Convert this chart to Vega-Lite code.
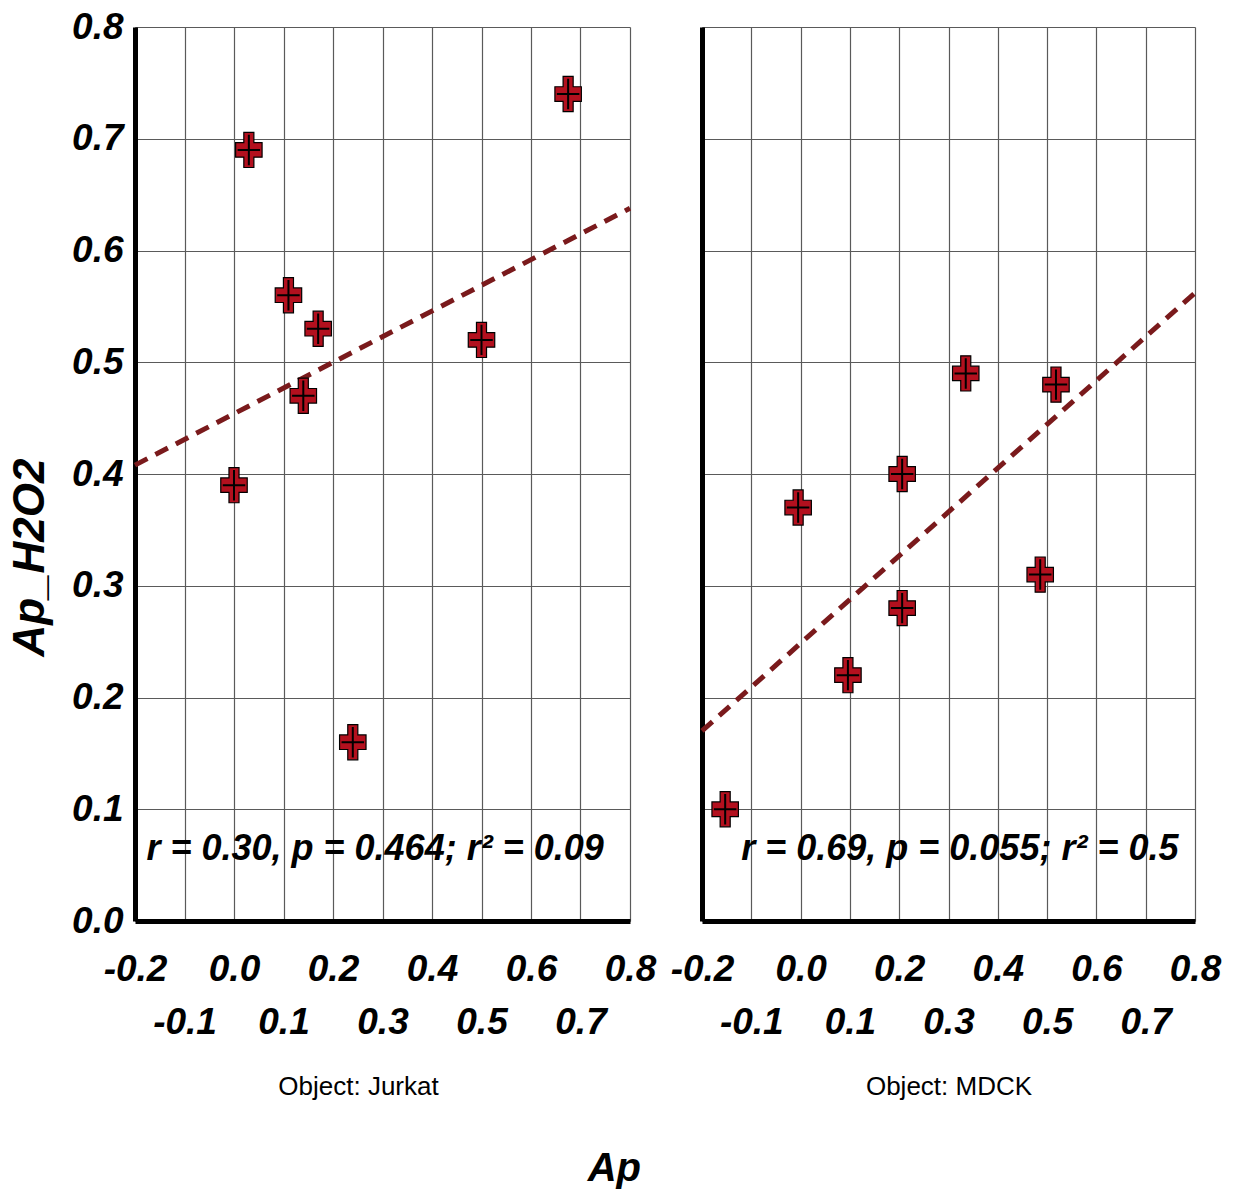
{
  "$schema": "https://vega.github.io/schema/vega-lite/v6.json",
  "background": "white",
  "padding": {"left": 8, "top": 8, "right": 10, "bottom": 0},
  "bounds": "flush",
  "spacing": 72,
  "datasets": {
    "jurkat": [
      {"x": 0.0, "y": 0.39},
      {"x": 0.03, "y": 0.69},
      {"x": 0.11, "y": 0.56},
      {"x": 0.17, "y": 0.53},
      {"x": 0.14, "y": 0.47},
      {"x": 0.24, "y": 0.16},
      {"x": 0.5, "y": 0.52},
      {"x": 0.675, "y": 0.74}
    ],
    "mdck": [
      {"x": -0.153, "y": 0.10},
      {"x": -0.005, "y": 0.37},
      {"x": 0.096, "y": 0.22},
      {"x": 0.206, "y": 0.40},
      {"x": 0.206, "y": 0.28},
      {"x": 0.335, "y": 0.49},
      {"x": 0.486, "y": 0.31},
      {"x": 0.518, "y": 0.48}
    ],
    "stats": [
      {"panel": "Jurkat", "label": "r = 0.30, p = 0.464; r² = 0.09"},
      {"panel": "MDCK", "label": "r = 0.69, p = 0.055; r² = 0.5"}
    ]
  },
  "title": {
    "text": "Ap",
    "orient": "bottom",
    "anchor": "middle",
    "offset": 50,
    "font": "Liberation Sans, sans-serif",
    "fontSize": 40,
    "fontStyle": "italic",
    "fontWeight": "bold",
    "color": "black"
  },
  "hconcat": [
    {
      "width": 495,
      "height": 894,
      "layer": [
        {
          "data": {"name": "jurkat"},
          "transform": [{"regression": "y", "on": "x", "extent": [-0.2, 0.8]}],
          "mark": {"type": "line", "color": "#7a1a1c", "strokeWidth": 5, "strokeDash": [14, 9]},
          "encoding": {
            "x": {"field": "x", "type": "quantitative", "scale": {"domain": [-0.2, 0.8], "nice": false, "zero": false},
              "axis": {
                "values": [-0.2, -0.1, 0, 0.1, 0.2, 0.3, 0.4, 0.5, 0.6, 0.7, 0.8],
                "labelExpr": "replace(format(datum.value, '.1f'), '\u2212', '-')",
                "labelPadding": {"condition": {"test": "abs(round(datum.value * 10)) % 2 == 1", "value": 83}, "value": 30},
                "title": "Object: Jurkat",
                "titleX": 223
              }},
            "y": {"field": "y", "type": "quantitative", "scale": {"domain": [0, 0.8], "nice": false, "zero": false},
              "axis": {
                "values": [0, 0.1, 0.2, 0.3, 0.4, 0.5, 0.6, 0.7, 0.8],
                "format": ".1f",
                "labelPadding": 12,
                "title": "Ap_H2O2",
                "titleX": -105,
                "titleY": 530,
                "titleAngle": 270,
                "titleAlign": "center",
                "titleBaseline": "middle",
                "titleFontSize": 44
              }}
          }
        },
        {
          "data": {"name": "jurkat"},
          "mark": {"type": "point", "shape": "M-0.38,-1.33L0.38,-1.33L0.38,-0.55L1,-0.55L1,0.55L0.38,0.55L0.38,1.33L-0.38,1.33L-0.38,0.55L-1,0.55L-1,-0.55L-0.38,-0.55Z", "size": 700, "filled": true, "fill": "#b3101e", "stroke": "black", "strokeWidth": 1.2, "opacity": 1},
          "encoding": {
            "x": {"field": "x", "type": "quantitative"},
            "y": {"field": "y", "type": "quantitative"}
          }
        },
        {
          "data": {"name": "jurkat"},
          "mark": {"type": "point", "shape": "M-0.85,0L0.85,0M0,-1.15L0,1.15", "size": 700, "filled": false, "stroke": "black", "strokeWidth": 2, "opacity": 1},
          "encoding": {
            "x": {"field": "x", "type": "quantitative"},
            "y": {"field": "y", "type": "quantitative"}
          }
        },
        {
          "data": {"name": "stats"},
          "transform": [{"filter": "datum.panel === 'Jurkat'"}],
          "mark": {"type": "text", "align": "center", "baseline": "middle", "font": "Liberation Sans, sans-serif", "fontSize": 36, "fontStyle": "italic", "fontWeight": "bold", "color": "black"},
          "encoding": {
            "x": {"datum": 0.285, "type": "quantitative"},
            "y": {"datum": 0.064, "type": "quantitative"},
            "text": {"field": "label"}
          }
        }
      ]
    },
    {
      "width": 493,
      "height": 894,
      "layer": [
        {
          "data": {"name": "mdck"},
          "transform": [{"regression": "y", "on": "x", "extent": [-0.2, 0.8]}],
          "mark": {"type": "line", "color": "#7a1a1c", "strokeWidth": 5, "strokeDash": [14, 9]},
          "encoding": {
            "x": {"field": "x", "type": "quantitative", "scale": {"domain": [-0.2, 0.8], "nice": false, "zero": false},
              "axis": {
                "values": [-0.2, -0.1, 0, 0.1, 0.2, 0.3, 0.4, 0.5, 0.6, 0.7, 0.8],
                "labelExpr": "replace(format(datum.value, '.1f'), '\u2212', '-')",
                "labelPadding": {"condition": {"test": "abs(round(datum.value * 10)) % 2 == 1", "value": 83}, "value": 30},
                "title": "Object: MDCK"
              }},
            "y": {"field": "y", "type": "quantitative", "scale": {"domain": [0, 0.8], "nice": false, "zero": false},
              "axis": {
                "values": [0, 0.1, 0.2, 0.3, 0.4, 0.5, 0.6, 0.7, 0.8],
                "labels": false,
                "title": null
              }}
          }
        },
        {
          "data": {"name": "mdck"},
          "mark": {"type": "point", "shape": "M-0.38,-1.33L0.38,-1.33L0.38,-0.55L1,-0.55L1,0.55L0.38,0.55L0.38,1.33L-0.38,1.33L-0.38,0.55L-1,0.55L-1,-0.55L-0.38,-0.55Z", "size": 700, "filled": true, "fill": "#b3101e", "stroke": "black", "strokeWidth": 1.2, "opacity": 1},
          "encoding": {
            "x": {"field": "x", "type": "quantitative"},
            "y": {"field": "y", "type": "quantitative"}
          }
        },
        {
          "data": {"name": "mdck"},
          "mark": {"type": "point", "shape": "M-0.85,0L0.85,0M0,-1.15L0,1.15", "size": 700, "filled": false, "stroke": "black", "strokeWidth": 2, "opacity": 1},
          "encoding": {
            "x": {"field": "x", "type": "quantitative"},
            "y": {"field": "y", "type": "quantitative"}
          }
        },
        {
          "data": {"name": "stats"},
          "transform": [{"filter": "datum.panel === 'MDCK'"}],
          "mark": {"type": "text", "align": "center", "baseline": "middle", "font": "Liberation Sans, sans-serif", "fontSize": 36, "fontStyle": "italic", "fontWeight": "bold", "color": "black"},
          "encoding": {
            "x": {"datum": 0.323, "type": "quantitative"},
            "y": {"datum": 0.064, "type": "quantitative"},
            "text": {"field": "label"}
          }
        }
      ]
    }
  ],
  "config": {
    "view": {"stroke": null},
    "axis": {
      "grid": true,
      "gridColor": "#5a5a5a",
      "gridWidth": 1.2,
      "gridOpacity": 1,
      "domainColor": "black",
      "domainWidth": 5,
      "ticks": false,
      "labelFont": "Liberation Sans, sans-serif",
      "labelFontSize": 37,
      "labelFontStyle": "italic",
      "labelFontWeight": "bold",
      "labelColor": "black",
      "labelFlush": false,
      "labelOverlap": false,
      "titleFont": "Liberation Sans, sans-serif",
      "titleFontSize": 26,
      "titleFontWeight": "normal",
      "titleFontStyle": "normal",
      "titleColor": "black"
    },
    "axisX": {
      "labelBaseline": "top",
      "titlePadding": 33,
      "titleBaseline": "top"
    },
    "axisY": {
      "titleFontWeight": "bold",
      "titleFontStyle": "italic"
    }
  }
}
